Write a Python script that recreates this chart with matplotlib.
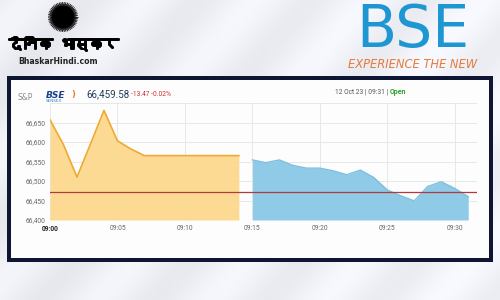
import numpy as np
import matplotlib
matplotlib.use("Agg")
import matplotlib.pyplot as plt
import matplotlib.patheffects as pe
from matplotlib import font_manager
from matplotlib.ft2font import FT2Font
from matplotlib.patches import Rectangle, Circle

# ---------------- data ----------------
pre_minutes = [0, 1, 2, 3, 4, 5, 6, 7, 8, 9, 10, 11, 12, 13, 14]
pre_values = [66657, 66593, 66510, 66595, 66681, 66603, 66582, 66565,
              66565, 66565, 66565, 66565, 66565, 66565, 66565]
open_minutes = [15, 16, 17, 18, 19, 20, 21, 22, 23, 24, 25, 26, 27, 28, 29, 30, 31]
open_values = [66554, 66547, 66554, 66540, 66533, 66533, 66526, 66516, 66528,
               66509, 66477, 66462, 66449, 66486, 66498, 66481, 66460]
prev_close = 66473.05
x_ticks = [0, 5, 10, 15, 20, 25, 30]
x_tick_labels = ["09:00", "09:05", "09:10", "09:15", "09:20", "09:25", "09:30"]
y_ticks = [66400, 66450, 66500, 66550, 66600, 66650, 66700]
y_tick_labels = ["66,400", "66,450", "66,500", "66,550", "66,600", "66,650", ""]
last_price = "66,459.58"
change_text = "-13.47 -0.02%"
stamp_text = "12 Oct 23 | 09:31 | "
status_text = "Open"
brand_hindi = "दैनिक भास्कर"
brand_site = "BhaskarHindi.com"
bse_logo = "BSE"
bse_tag = "EXPERIENCE THE NEW"


def find_font(ch):
    for f in font_manager.fontManager.ttflist:
        try:
            if ord(ch) in FT2Font(f.fname).get_charmap():
                return f.name
        except Exception:
            pass
    return None

deva_font = find_font("द")

fig = plt.figure(figsize=(5, 3), dpi=100)

# ---------- background layer in pixel coordinates ----------
bg = fig.add_axes([0, 0, 1, 1], zorder=0)
bg.set_xlim(0, 500)
bg.set_ylim(300, 0)
bg.axis("off")
yy, xx = np.mgrid[0:300, 0:500]
stripe = 0.5 + 0.5 * np.sin((xx + yy * 0.9) / 18.0)
base = 0.915 + 0.05 * stripe + 0.02 * (xx / 500.0)
img = np.dstack([base * 0.99, base * 0.995, np.minimum(base * 1.02, 1)])
bg.imshow(np.clip(img, 0, 1), extent=(0, 500, 300, 0), aspect="auto", zorder=0)

# dark frame + white panel
bg.add_patch(Rectangle((7, 76), 486, 186, facecolor="#0e1633", edgecolor="none", zorder=1))
bg.add_patch(Rectangle((11, 80), 478, 178, facecolor="#fdfdfd", edgecolor="none", zorder=2))

# left logo: sun
cx, cy = 63, 17
ang = np.linspace(0, 2 * np.pi, 110, endpoint=False)
for i, a in enumerate(ang):
    r2 = 15 if i % 2 == 0 else 13.5
    bg.plot([cx + 9 * np.cos(a), cx + r2 * np.cos(a)], [cy + 9 * np.sin(a), cy + r2 * np.sin(a)],
            color="#111111", lw=0.6, solid_capstyle="butt", zorder=3)
bg.add_patch(Circle((cx, cy), 11.5, facecolor="black", edgecolor="none", zorder=4))
hindi_family = [deva_font, "DejaVu Sans"] if deva_font else ["DejaVu Sans"]
bg.text(64, 44, brand_hindi, family=hindi_family, fontsize=10.5, weight="heavy",
        ha="center", va="center", color="black", zorder=4,
        path_effects=[pe.withStroke(linewidth=1.4, foreground="black")])
bg.text(58, 62, brand_site, family="DejaVu Sans", fontsize=5.6, weight="bold",
        ha="center", va="center", color="#222222", zorder=4)

# right logo
bg.text(413, 30, bse_logo, family="DejaVu Sans", fontsize=42, ha="center", va="center",
        color="#1e96d2", zorder=4)
bg.text(413, 65, bse_tag, family="DejaVu Sans", fontsize=8.3, style="italic", ha="center",
        va="center", color="#e57a3c", zorder=4)

# header inside panel
bg.text(17, 97, "S&P", family="DejaVu Sans", fontsize=5.5, color="#8a8a8a", va="center", zorder=4)
bg.text(46, 96, "BSE", family="DejaVu Sans", fontsize=6.5, weight="bold", style="italic",
        color="#1a3f8f", va="center", zorder=4)
bg.text(71, 94, ")", family="DejaVu Sans", fontsize=6, weight="bold",
        color="#f07a28", va="center", zorder=4)
bg.text(46, 101.5, "SENSEX", family="DejaVu Sans", fontsize=3, color="#2f7fc1", va="center", zorder=4)
tp = bg.text(86, 94.5, last_price, family="Roboto", fontsize=7, color="#1f3b57",
             va="center", zorder=4)
bg.annotate(change_text, xy=(1, 0.45), xycoords=tp, xytext=(1.5, 0), textcoords="offset points",
            va="center", ha="left", family="Roboto", fontsize=4.8, color="#d03030", zorder=4)
t1 = bg.text(335, 92, stamp_text, family="Roboto", fontsize=4.8, color="#555555",
             va="center", zorder=4)
bg.annotate(status_text, xy=(1, 0.5), xycoords=t1, va="center", ha="left",
            family="Roboto", fontsize=5, weight="bold", color="#2e9e2e", zorder=4)

# ---------------- chart ----------------
ax = fig.add_axes([0.1, 1 - 220 / 300, 0.954 - 0.1, (220 - 103) / 300], zorder=2)
ax.patch.set_alpha(0)
ax.set_xlim(0, 31.65)
ax.set_ylim(66400, 66700)

ax.fill_between(pre_minutes, pre_values, 66400, color="#fcd98f", alpha=0.95, lw=0, zorder=2)
ax.plot(pre_minutes, pre_values, color="#eeaa33", lw=1.2, zorder=3)
ax.fill_between(open_minutes, open_values, 66400, color="#8fcae6", lw=0, zorder=2)
ax.plot(open_minutes, open_values, color="#7cbfe0", lw=1.0, zorder=3)
ax.axhline(prev_close, color="#b23a3a", lw=0.9, zorder=4)

ax.set_xticks(x_ticks)
ax.set_xticklabels(x_tick_labels)
ax.set_yticks(y_ticks)
ax.set_yticklabels(y_tick_labels)
ax.grid(True, color="#e4e4e4", lw=0.6, zorder=0)
ax.set_axisbelow(True)
for s in ax.spines.values():
    s.set_visible(False)
ax.tick_params(length=0, labelsize=4.8, labelcolor="#666666", pad=3.5)
for lab in ax.get_xticklabels():
    lab.set_family("Roboto")
for lab in ax.get_yticklabels():
    lab.set_family("Roboto")
ax.get_xticklabels()[0].set_weight("bold")
ax.get_xticklabels()[0].set_color("#222222")

fig.savefig("out.png", dpi=100)
